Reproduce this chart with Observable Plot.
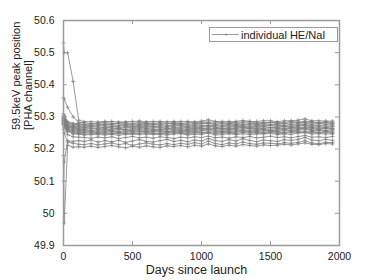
<!DOCTYPE html>
<html>
<head>
<meta charset="utf-8">
<script src="https://cdn.jsdelivr.net/npm/d3@7"></script>
<script src="https://cdn.jsdelivr.net/npm/@observablehq/plot@0.6"></script>
<style>
  html, body { margin: 0; padding: 0; background: #fff; }
  #chart { width: 374px; height: 280px; }
</style>
</head>
<body>
<div id="chart"></div>
<script>
const days = [0,5,30,70,110,150,200,250,300,350,400,450,500,550,600,650,700,750,800,850,900,950,1000,1050,1100,1150,1200,1250,1300,1350,1400,1450,1500,1550,1600,1650,1700,1750,1800,1850,1900,1950];

const det01 = [50.530,50.500,50.500,50.410,50.290, 50.285,50.285,50.284,50.286,50.286,50.284,50.285,50.286,50.287,50.285, 50.286,50.286,50.285,50.286,50.286,50.286,50.285,50.287,50.291,50.286, 50.286,50.286,50.286,50.289,50.286,50.286,50.288,50.288,50.285,50.288, 50.288,50.290,50.294,50.288,50.288,50.287,50.287];
const det02 = [50.360,50.355,50.330,50.300,50.283, 50.282,50.279,50.281,50.284,50.280,50.281,50.282,50.280,50.284,50.282, 50.280,50.283,50.280,50.283,50.280,50.282,50.282,50.284,50.284,50.284, 50.281,50.282,50.283,50.284,50.285,50.281,50.283,50.283,50.283,50.283, 50.286,50.284,50.287,50.285,50.282,50.285,50.283];
const det03 = [50.310,50.305,50.285,50.280,50.279, 50.277,50.277,50.279,50.278,50.278,50.279,50.278,50.278,50.279,50.280, 50.278,50.278,50.279,50.280,50.280,50.277,50.280,50.280,50.282,50.278, 50.280,50.280,50.278,50.282,50.280,50.280,50.279,50.283,50.279,50.279, 50.282,50.282,50.282,50.282,50.280,50.283,50.279];
const det04 = [50.305,50.300,50.282,50.277,50.276, 50.275,50.273,50.275,50.277,50.276,50.273,50.278,50.275,50.276,50.276, 50.276,50.278,50.273,50.277,50.277,50.275,50.275,50.279,50.280,50.276, 50.274,50.278,50.276,50.276,50.278,50.276,50.278,50.277,50.276,50.279, 50.277,50.279,50.282,50.277,50.279,50.278,50.278];
const det05 = [50.300,50.298,50.278,50.273,50.272, 50.272,50.270,50.273,50.273,50.271,50.271,50.274,50.271,50.274,50.274, 50.271,50.273,50.270,50.275,50.273,50.271,50.274,50.274,50.274,50.273, 50.271,50.275,50.273,50.274,50.275,50.273,50.273,50.275,50.274,50.273, 50.275,50.275,50.275,50.275,50.273,50.276,50.274];
const det06 = [50.298,50.295,50.276,50.270,50.270, 50.268,50.269,50.269,50.268,50.270,50.267,50.270,50.270,50.270,50.270, 50.270,50.269,50.268,50.271,50.272,50.268,50.270,50.270,50.274,50.268, 50.269,50.272,50.269,50.272,50.269,50.271,50.271,50.273,50.269,50.271, 50.270,50.274,50.275,50.271,50.272,50.271,50.271];
const det07 = [50.295,50.290,50.272,50.268,50.266, 50.267,50.265,50.265,50.268,50.266,50.263,50.268,50.266,50.269,50.266, 50.266,50.268,50.263,50.268,50.266,50.267,50.266,50.268,50.270,50.268, 50.264,50.268,50.268,50.268,50.268,50.266,50.269,50.267,50.267,50.269, 50.268,50.270,50.274,50.268,50.268,50.267,50.269];
const det08 = [50.292,50.288,50.270,50.265,50.263, 50.263,50.263,50.263,50.263,50.262,50.263,50.262,50.263,50.266,50.264, 50.262,50.262,50.263,50.265,50.263,50.263,50.265,50.263,50.266,50.264, 50.264,50.264,50.264,50.268,50.264,50.264,50.264,50.267,50.264,50.263, 50.267,50.267,50.268,50.267,50.263,50.266,50.264];
const det09 = [50.290,50.285,50.268,50.262,50.261, 50.261,50.258,50.260,50.263,50.259,50.260,50.261,50.259,50.263,50.261, 50.259,50.262,50.259,50.262,50.259,50.261,50.261,50.263,50.263,50.263, 50.260,50.261,50.262,50.263,50.264,50.260,50.262,50.262,50.262,50.262, 50.265,50.263,50.266,50.264,50.261,50.264,50.262];
const det10 = [50.288,50.283,50.265,50.259,50.258, 50.258,50.256,50.256,50.259,50.257,50.254,50.259,50.257,50.260,50.257, 50.257,50.259,50.254,50.259,50.257,50.258,50.257,50.259,50.261,50.259, 50.255,50.259,50.259,50.259,50.259,50.257,50.260,50.258,50.258,50.260, 50.259,50.261,50.265,50.259,50.259,50.258,50.260];
const det11 = [50.285,50.280,50.262,50.256,50.255, 50.254,50.254,50.253,50.255,50.255,50.253,50.254,50.255,50.256,50.254, 50.255,50.255,50.254,50.255,50.255,50.255,50.254,50.256,50.260,50.255, 50.255,50.255,50.255,50.258,50.255,50.255,50.257,50.257,50.254,50.257, 50.257,50.259,50.263,50.257,50.257,50.256,50.256];
const det12 = [50.283,50.278,50.260,50.253,50.252, 50.251,50.251,50.251,50.251,50.250,50.251,50.250,50.251,50.254,50.252, 50.250,50.250,50.251,50.253,50.251,50.251,50.253,50.251,50.254,50.252, 50.252,50.252,50.252,50.256,50.252,50.252,50.252,50.255,50.252,50.251, 50.255,50.255,50.256,50.255,50.251,50.254,50.252];
const det13 = [50.280,50.276,50.257,50.250,50.249, 50.247,50.247,50.249,50.248,50.248,50.249,50.248,50.248,50.249,50.250, 50.248,50.248,50.249,50.250,50.250,50.247,50.250,50.250,50.252,50.248, 50.250,50.250,50.248,50.252,50.250,50.250,50.249,50.253,50.249,50.249, 50.252,50.252,50.252,50.252,50.250,50.253,50.249];
const det14 = [50.278,50.272,50.255,50.247,50.246, 50.244,50.245,50.245,50.244,50.246,50.243,50.246,50.246,50.246,50.246, 50.246,50.245,50.244,50.247,50.248,50.244,50.246,50.246,50.250,50.244, 50.245,50.248,50.245,50.248,50.245,50.247,50.247,50.249,50.245,50.247, 50.246,50.250,50.251,50.247,50.248,50.247,50.247];
const det15 = [50.275,50.268,50.245,50.238,50.237, 50.236,50.234,50.237,50.235,50.238,50.233,50.236,50.239,50.235,50.237, 50.234,50.238,50.236,50.233,50.237,50.235,50.238,50.236,50.240,50.235, 50.237,50.234,50.238,50.236,50.239,50.235,50.237,50.240,50.236,50.238, 50.235,50.239,50.242,50.237,50.238,50.236,50.239];
const det16 = [50.100,50.160,50.226,50.224,50.226, 50.224,50.228,50.222,50.226,50.223,50.227,50.221,50.225,50.229,50.224, 50.222,50.226,50.230,50.224,50.227,50.223,50.228,50.225,50.233,50.226, 50.224,50.229,50.225,50.232,50.227,50.223,50.228,50.226,50.224,50.229, 50.227,50.230,50.236,50.228,50.226,50.230,50.227];
const det17 = [50.262,50.250,50.222,50.218,50.215, 50.214,50.217,50.213,50.216,50.219,50.214,50.217,50.212,50.216,50.219, 50.215,50.213,50.217,50.214,50.218,50.215,50.220,50.216,50.225,50.217, 50.214,50.219,50.216,50.222,50.217,50.215,50.219,50.218,50.216,50.220, 50.218,50.221,50.226,50.219,50.217,50.221,50.220];
const det18 = [50.180,49.970,50.212,50.206,50.207, 50.206,50.209,50.205,50.208,50.211,50.207,50.204,50.209,50.206,50.210, 50.207,50.205,50.210,50.208,50.211,50.207,50.212,50.209,50.216,50.210, 50.208,50.212,50.209,50.214,50.211,50.209,50.213,50.211,50.212,50.215, 50.213,50.216,50.219,50.215,50.214,50.217,50.216];

const xTicks = [0, 500, 1000, 1500, 2000];
const yTicks = [49.9, 50, 50.1, 50.2, 50.3, 50.4, 50.5, 50.6];
const xLabel = "Days since launch";
const yLabel = "59.5keV peak position\n[PHA channel]";
const legendLabel = "individual HE/NaI";

const detectors = [det01,det02,det03,det04,det05,det06,det07,det08,det09,det10,det11,det12,det13,det14,det15,det16,det17,det18];
const data = detectors.flatMap((vals, k) => vals.map((v, i) => ({day: days[i], value: v, det: k})));

const W = 374, H = 280, mL = 63, mR = 35, mT = 20, mB = 35;
const innerW = W - mL - mR, innerH = H - mT - mB;
const tickLen = 4;
const gray = "#808080";
const frameGray = "#9a9a9a";
const font = "'Liberation Sans', Arial, Helvetica, sans-serif";

const chart = Plot.plot({
  width: W, height: H,
  marginLeft: mL, marginRight: mR, marginTop: mT, marginBottom: mB,
  style: {fontFamily: font, fontSize: "10.5px", color: "#222", background: "#fff"},
  x: {domain: [0, 2000]},
  y: {domain: [49.9, 50.6]},
  marks: [
    Plot.line(data, {x: "day", y: "value", z: "det", stroke: gray, strokeWidth: 0.8}),
    Plot.dot(data, {x: "day", y: "value", symbol: "plus", r: 1.4, stroke: gray, strokeWidth: 0.7}),
    Plot.tickY(yTicks, {y: d => d, insetRight: innerW - tickLen, stroke: frameGray}),
    Plot.tickY(yTicks, {y: d => d, insetLeft: innerW - tickLen, stroke: frameGray}),
    Plot.tickX(xTicks, {x: d => d, insetTop: innerH - tickLen, stroke: frameGray}),
    Plot.tickX(xTicks, {x: d => d, insetBottom: innerH - tickLen, stroke: frameGray}),
    Plot.frame({stroke: frameGray, strokeWidth: 1.5}),
    Plot.axisY({ticks: yTicks, tickSize: 0, tickPadding: 9, label: null, tickFormat: d => `${+d.toFixed(1)}`}),
    Plot.axisX({ticks: xTicks, tickSize: 0, tickPadding: 7, label: null, tickFormat: d => `${d}`}),
    Plot.text([xLabel], {frameAnchor: "bottom", dy: 28, dx: -5, fontSize: 12.5, fill: "#222"}),
    Plot.text([yLabel], {frameAnchor: "left", rotate: -90, dx: -41, dy: -3, fontSize: 11, lineHeight: 1.1, fill: "#222"})
  ]
});

// legend box (top right, inside the frame)
const svg = d3.select(chart);
const lg = svg.append("g").attr("class", "legend").attr("text-anchor", "start");
lg.append("rect").attr("x", 209.5).attr("y", 27.5).attr("width", 128).attr("height", 14)
  .attr("fill", "#fff").attr("stroke", frameGray).attr("stroke-width", 1);
lg.append("line").attr("x1", 212).attr("x2", 239).attr("y1", 34.5).attr("y2", 34.5)
  .attr("stroke", gray).attr("stroke-width", 0.8);
lg.append("path").attr("d", "M224.6,34.5h2.8M226,33.1v2.8").attr("stroke", gray).attr("stroke-width", 0.7);
lg.append("text").attr("x", 241).attr("y", 38.5).attr("text-anchor", "start")
  .attr("font-family", font).attr("font-size", 11)
  .attr("fill", "#222").text(legendLabel);

document.getElementById("chart").appendChild(chart);
</script>
</body>
</html>
